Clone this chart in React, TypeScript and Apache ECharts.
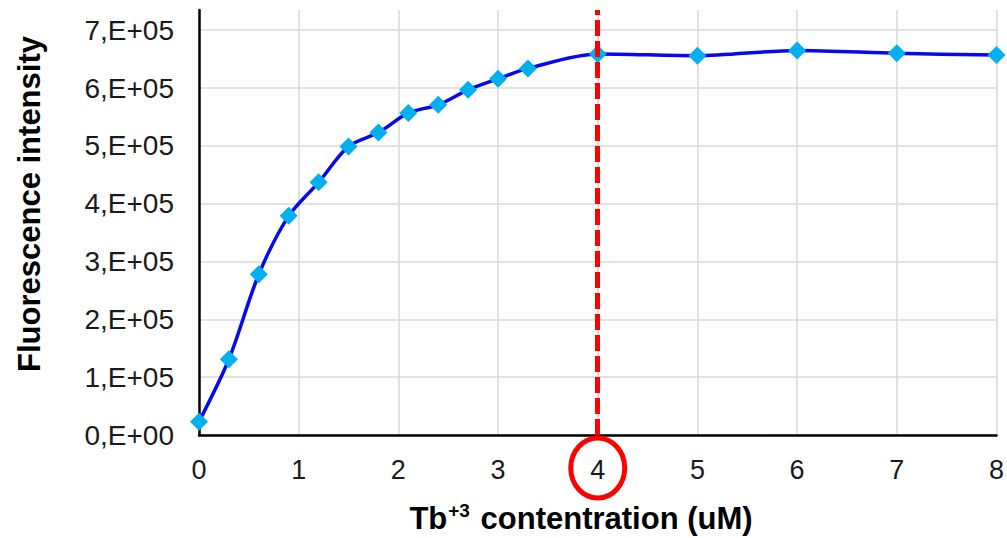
import React, { useEffect, useRef } from "react";
import * as echarts from "echarts";

// Data
const concentration = [0, 0.3, 0.6, 0.9, 1.2, 1.5, 1.8, 2.1, 2.4, 2.7, 3.0, 3.3, 4, 5, 6, 7, 8];
const intensity = [
  23000, 131000, 278000, 379000, 437000, 499000, 523000, 557000, 571000,
  597000, 616000, 634000, 659000, 656000, 665000, 660000, 657000,
];
const yTickLabels = ["0,E+00", "1,E+05", "2,E+05", "3,E+05", "4,E+05", "5,E+05", "6,E+05", "7,E+05"];
const highlightX = 4;
const yTitle = "Fluorescence intensity";
const xTitleMain = "Tb";
const xTitleSup = "+3";
const xTitleRest = " contentration (uM)";

const FONT = "'Liberation Sans', Arial, sans-serif";

export default function App() {
  const ref = useRef<HTMLDivElement>(null);

  useEffect(() => {
    document.body.style.margin = "0";
    const chart = echarts.init(ref.current!, null, { renderer: "svg" });
    const points = concentration.map((x, i) => [x, intensity[i]]);

    chart.setOption({
      animation: false,
      backgroundColor: "#ffffff",
      grid: { left: 199, right: 7, top: 10, bottom: 103, containLabel: false },
      xAxis: {
        type: "value",
        min: 0,
        max: 8,
        interval: 1,
        axisLine: { show: true, lineStyle: { color: "#000000", width: 2.5 } },
        axisTick: { show: false },
        axisLabel: {
          margin: 21,
          fontFamily: FONT,
          fontSize: 27,
          color: "#1a1a1a",
        },
        splitLine: { show: true, lineStyle: { color: "#d9d9d9", width: 1.5 } },
      },
      yAxis: {
        type: "value",
        min: 0,
        max: 735000,
        interval: 100000,
        axisLine: { show: true, lineStyle: { color: "#000000", width: 2.5 } },
        axisTick: { show: false },
        axisLabel: {
          margin: 25,
          fontFamily: FONT,
          fontSize: 28,
          color: "#1a1a1a",
          formatter: (v: number) => {
            const idx = Math.round(v / 100000);
            if (Math.abs(v - idx * 100000) > 1) return "";
            return yTickLabels[idx] ?? "";
          },
        },
        splitLine: {
          show: true,
          showMaxLine: false,
          lineStyle: { color: "#d9d9d9", width: 1.5 },
        },
      },
      series: [
        {
          type: "line",
          data: points,
          smooth: 0.3,
          symbol: "diamond",
          symbolSize: 18,
          itemStyle: { color: "#00b0f0" },
          lineStyle: { color: "#0808f0", width: 3.5 },
          z: 3,
          markLine: {
            silent: true,
            symbol: ["none", "none"],
            label: { show: false },
            lineStyle: { color: "#ff0000", width: 5, type: [16, 5] },
            data: [{ xAxis: highlightX }],
            z: 5,
          },
        },
      ],
    });

    const [cx, axisY] = chart.convertToPixel({ gridIndex: 0 }, [highlightX, 0]) as number[];

    chart.setOption({
      graphic: [
        {
          type: "ellipse",
          shape: { cx: cx, cy: axisY + 33, rx: 27, ry: 30 },
          style: { fill: "none", stroke: "#ff0000", lineWidth: 5 },
          z: 10,
        },
        {
          type: "text",
          x: 29,
          y: 204,
          rotation: Math.PI / 2,
          style: {
            text: yTitle,
            font: `bold 31px ${FONT}`,
            fill: "#000000",
            align: "center",
            verticalAlign: "middle",
          },
        },
        {
          type: "text",
          x: 581,
          y: 518,
          style: {
            text: `{a|${xTitleMain}}{s|${xTitleSup}}{a|${xTitleRest}}`,
            align: "center",
            verticalAlign: "middle",
            rich: {
              a: { fontFamily: FONT, fontWeight: "bold", fontSize: 31, color: "#000000" },
              s: {
                fontFamily: FONT,
                fontWeight: "bold",
                fontSize: 19,
                color: "#000000",
                padding: [0, 2, 16, 1],
              },
            },
          },
        },
      ],
    });

    return () => chart.dispose();
  }, []);

  return (
    <div
      ref={ref}
      style={{ position: "fixed", left: 0, top: 0, width: 1007, height: 538, background: "#fff" }}
    />
  );
}
